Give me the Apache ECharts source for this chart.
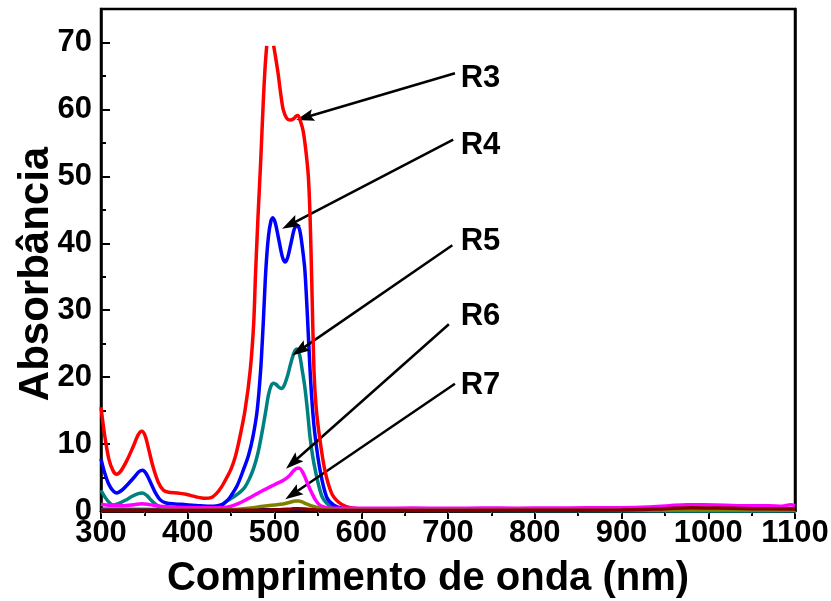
<!DOCTYPE html>
<html>
<head>
<meta charset="utf-8">
<script src="https://cdn.jsdelivr.net/npm/echarts@6/dist/echarts.min.js"></script>
<style>
  html, body { margin: 0; padding: 0; background: #fff; }
  #chart { width: 831px; height: 601px; }
</style>
</head>
<body>
<div id="chart"></div>
<script>
// UV-Vis absorption spectra, wavelength (nm) vs absorbance
const xTicks = [300, 400, 500, 600, 700, 800, 900, 1000, 1100];
const yTicks = [0, 10, 20, 30, 40, 50, 60, 70];
const yMinorTicks = [5, 15, 25, 35, 45, 55, 65];

const r3 = [[300,15.5],[304,11.5],[309,7.8],[314,6.0],[318,5.5],[323,6.0],[330,7.6],[337,9.6],[343,11.4],[347,11.9],[351,11.2],[355,9.2],[360,6.6],[366,4.3],[372,3.1],[378,2.8],[388,2.7],[398,2.5],[410,2.1],[420,1.9],[427,2.0],[433,2.6],[439,3.6],[445,5.0],[450,6.3],[455,8.2],[460,11],[466,15],[472,21],[476,28],[478,35],[481,44],[484,52],[487,61],[489,66],[491,69.5],[495,null],[499,69.5],[501,68],[504,65.5],[507,62.5],[510,60],[514,58.7],[518,58.4],[522,58.6],[525,59.0],[527,59.1],[530,58.2],[533,56.8],[536,54],[539,50],[541,44],[543,34],[545.5,21],[548,15.5],[552,11],[558,6.1],[566,2.6],[574,1.3],[582,0.7],[592,0.4],[605,0.25],[650,0.2],[800,0.2],[950,0.2],[1000,0.3],[1100,0.25]];

const r4 = [[300,7.8],[304,5.8],[309,4.0],[314,3.0],[318,2.7],[324,3.1],[331,4.0],[338,5.0],[344,5.9],[348,6.1],[352,5.6],[357,4.3],[362,2.9],[368,1.7],[375,1.2],[385,1.05],[398,0.95],[412,0.8],[425,0.7],[433,0.75],[440,1.0],[445,1.5],[449,2.1],[457,3.8],[464,6.1],[470,8.3],[475,11],[480,15],[484,21],[487,28],[490,36],[493,41],[496,43.4],[498,43.8],[501,43.0],[505,40.5],[509,38],[512,37.2],[515,37.8],[519,40],[523,42.2],[526,42.7],[529,42],[532,39.5],[535,36],[538,29],[541,21],[544,15],[547,11],[552.5,6.1],[560,2.1],[568,0.9],[578,0.4],[590,0.25],[620,0.2],[800,0.2],[1100,0.2]];

const r5 = [[300,3.1],[305,2.0],[310,1.2],[314,0.9],[320,1.1],[328,1.6],[336,2.2],[343,2.6],[348,2.7],[353,2.3],[358,1.6],[364,0.9],[372,0.5],[385,0.35],[410,0.3],[432,0.3],[438,0.7],[443,1.3],[449,1.8],[455,2.3],[461,2.9],[466,3.6],[471,4.8],[476,6.4],[481,8.7],[486,12],[490,15],[493,17.3],[496,18.7],[499,19.1],[502,18.9],[505,18.5],[508,18.3],[511,18.7],[515,20.2],[519,22.2],[523,23.8],[526,24.2],[529,23.3],[532,21],[535,18.5],[538,15],[541,11],[544,8.2],[547,6.1],[551,3.8],[555,2.1],[560,1.2],[566,0.6],[575,0.3],[590,0.15],[650,0.1],[800,0.05],[950,0],[985,-0.15],[1030,-0.05],[1100,0]];

const r6 = [[300,1.0],[310,0.85],[325,0.8],[338,0.95],[347,1.1],[356,0.95],[368,0.7],[385,0.55],[410,0.5],[440,0.5],[450,0.7],[458,1.1],[466,1.6],[473,2.1],[480,2.6],[487,3.1],[492,3.4],[498,3.8],[504,4.2],[509,4.5],[514,4.9],[518,5.4],[522,6.0],[526,6.4],[529,6.4],[532,5.9],[535,5.1],[539,3.8],[543,2.7],[547,1.7],[552,0.9],[557,0.6],[562,0.45],[580,0.4],[620,0.4],[660,0.45],[700,0.4],[740,0.45],[780,0.42],[820,0.45],[860,0.48],[900,0.5],[930,0.6],[955,0.8],[975,0.95],[995,0.92],[1020,0.85],[1045,0.78],[1070,0.8],[1085,0.72],[1095,0.95],[1100,0.8]];

const r7 = [[300,0.1],[400,0.1],[450,0.2],[470,0.4],[481,0.6],[492,0.8],[500,0.9],[510,1.05],[518,1.3],[524,1.5],[528,1.5],[532,1.35],[536,1.1],[541,0.85],[547,0.6],[555,0.3],[565,0.15],[600,0.1],[1100,0.1]];

const r8 = [[300,0.05],[450,0.1],[500,0.15],[520,0.3],[527,0.35],[535,0.3],[550,0.12],[600,0.08],[800,0.1],[900,0.15],[950,0.35],[980,0.5],[1010,0.45],[1050,0.35],[1100,0.3]];

const r9 = [[300,0.25],[400,0.2],[600,0.2],[800,0.25],[1100,0.3]];

// Arrow annotations in data coordinates: tail, head, label anchor
const notes = [
  { name: 'R3', from: [708, 65.4], to: [535, 58.8], text: [714, 64.6] },
  { name: 'R4', from: [706, 55.5], to: [518, 42.8], text: [714, 54.6] },
  { name: 'R5', from: [705, 39.7], to: [529, 24.0], text: [714, 40.3] },
  { name: 'R6', from: [701, 27.9], to: [521, 7.2],  text: [714, 29.1] },
  { name: 'R7', from: [708, 19.0], to: [521, 2.5],  text: [714, 18.7] }
];

const FONT = '"Liberation Sans", Arial, sans-serif';
// filled arrow head pointing up, slightly notched at the back
const ARROW = 'path://M5,0 L10,16 L5,13 L0,16 Z';

function lineSeries(name, data, color, z) {
  const s = {
    name: name, type: 'line', data: data,
    smooth: 0.3, showSymbol: false, symbol: 'none',
    lineStyle: { color: color, width: 3.5 },
    itemStyle: { color: color },
    z: z, silent: true, animation: false
  };
  const n = notes.find(a => a.name === name);
  if (n) {
    s.markLine = {
      silent: true, animation: false,
      symbol: ['none', ARROW], symbolSize: [12, 18],
      lineStyle: { color: '#000', width: 2.5, type: 'solid' },
      itemStyle: { color: '#000' },
      label: { show: false },
      data: [[{ coord: n.from }, { coord: n.to }]]
    };
    s.markPoint = {
      silent: true, animation: false,
      symbol: 'circle', symbolSize: 1,
      itemStyle: { color: 'rgba(0,0,0,0)' },
      label: {
        show: true, position: 'right', distance: 0,
        formatter: n.name, color: '#000',
        fontFamily: FONT, fontWeight: 'bold', fontSize: 31
      },
      data: [{ coord: n.text }]
    };
  }
  return s;
}

const tickFont = { color: '#000', fontFamily: FONT, fontWeight: 'bold', fontSize: 31 };

const chart = echarts.init(document.getElementById('chart'), null, { renderer: 'canvas' });
chart.setOption({
  animation: false,
  backgroundColor: '#fff',
  grid: { left: 101, right: 36, top: 9, bottom: 90, outerBoundsMode: 'none', containLabel: false,
    show: true, borderColor: '#000', borderWidth: 2.5, backgroundColor: 'transparent' },
  xAxis: [
    {
      type: 'value', min: 300, max: 1100, interval: 100, position: 'bottom',
      name: 'Comprimento de onda (nm)', nameLocation: 'middle', nameGap: 48, nameMoveOverlap: false,
      nameTextStyle: { fontFamily: FONT, fontWeight: 'bold', fontSize: 40, color: '#000', padding: [0, 40, 0, 0] },
      axisLine: { show: true, onZero: false, lineStyle: { color: '#000', width: 2.5 } },
      axisTick: { show: true, inside: false, length: 8, lineStyle: { color: '#000', width: 2 } },
      minorTick: { show: true, splitNumber: 2, length: 5, lineStyle: { color: '#000', width: 2 } },
      splitLine: { show: false },
      axisLabel: Object.assign({ show: true, margin: 7, customValues: xTicks, formatter: v => String(v) }, tickFont)
    },
    {
      type: 'value', min: 300, max: 1100, interval: 50, position: 'top',
      axisLine: { show: true, lineStyle: { color: '#000', width: 2.5 } },
      axisTick: { show: true, inside: true, length: 3, lineStyle: { color: '#666', width: 1 } },
      axisLabel: { show: false }, splitLine: { show: false }
    }
  ],
  yAxis: [
    {
      type: 'value', min: 0, max: 75, interval: 10, position: 'left',
      name: 'Absorbância', nameLocation: 'middle', nameGap: 44, nameMoveOverlap: false,
      nameTextStyle: { fontFamily: FONT, fontWeight: 'bold', fontSize: 42, color: '#000', padding: [0, 28, 0, 0] },
      axisLine: { show: true, onZero: false, lineStyle: { color: '#000', width: 2.5 } },
      axisTick: { show: true, inside: true, length: 9, lineStyle: { color: '#000', width: 2 }, customValues: yTicks },
      splitLine: { show: false },
      axisLabel: Object.assign({ show: true, margin: 9, customValues: yTicks, formatter: v => String(v) }, tickFont)
    },
    {
      type: 'value', min: 0, max: 75, interval: 5, position: 'left',
      axisLine: { show: false },
      axisTick: { show: true, inside: true, length: 5, lineStyle: { color: '#000', width: 2 }, customValues: yMinorTicks },
      axisLabel: { show: false }, splitLine: { show: false }
    },
    {
      type: 'value', min: 0, max: 75, position: 'right',
      axisLine: { show: true, lineStyle: { color: '#000', width: 2.5 } },
      axisTick: { show: false }, axisLabel: { show: false }, splitLine: { show: false }
    }
  ],
  series: [
    lineSeries('R9', r9, '#000080', 2),
    lineSeries('R5', r5, '#008080', 3),
    lineSeries('R4', r4, '#0000ff', 4),
    lineSeries('R3', r3, '#ff0000', 5),
    lineSeries('R6', r6, '#ff00ff', 6),
    lineSeries('R7', r7, '#808000', 7),
    lineSeries('R8', r8, '#800000', 8)
  ]
});
</script>
</body>
</html>
